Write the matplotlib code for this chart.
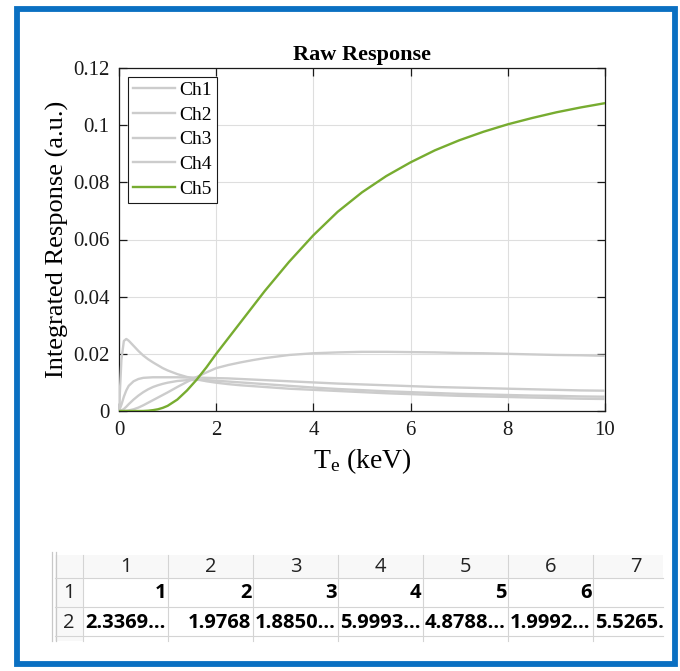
import matplotlib
matplotlib.use("Agg")
import matplotlib.pyplot as plt
from matplotlib.patches import Rectangle
from matplotlib.lines import Line2D
from matplotlib.ticker import FuncFormatter

# ---------------- data ----------------
te_kev = [0, 0.05, 0.1, 0.15, 0.2, 0.3, 0.4, 0.5, 0.6, 0.7, 0.8, 0.9, 1.0, 1.2,
          1.4, 1.6, 1.8, 2.0, 2.25, 2.5, 2.75, 3.0, 3.5, 4.0, 4.5, 5.0, 5.5,
          6.0, 6.5, 7.0, 7.5, 8.0, 8.5, 9.0, 9.5, 10.0]
ch1 = [0, 0.0180, 0.0245, 0.0252, 0.0246, 0.0228, 0.0210, 0.0194, 0.0181, 0.0170,
       0.0160, 0.0150, 0.0142, 0.0129, 0.0119, 0.0111, 0.0104, 0.0099, 0.0094,
       0.0090, 0.0087, 0.0084, 0.0078, 0.0074, 0.0070, 0.0066, 0.0062, 0.0059,
       0.0056, 0.0053, 0.0051, 0.0049, 0.0047, 0.0045, 0.0043, 0.0042]
ch2 = [0, 0.0022, 0.0050, 0.0072, 0.0088, 0.0104, 0.0112, 0.0116, 0.0117, 0.0118,
       0.0118, 0.0118, 0.0118, 0.0118, 0.0117, 0.0117, 0.0116, 0.0115, 0.0114,
       0.0112, 0.0110, 0.0108, 0.0104, 0.0100, 0.0096, 0.0093, 0.0090, 0.0087,
       0.0084, 0.0082, 0.0080, 0.0078, 0.0076, 0.0074, 0.0072, 0.0071]
ch3 = [0, 0.0002, 0.0007, 0.0015, 0.0024, 0.0040, 0.0054, 0.0066, 0.0076, 0.0084,
       0.0090, 0.0095, 0.0099, 0.0105, 0.0108, 0.0109, 0.0108, 0.0106, 0.0103,
       0.0100, 0.0097, 0.0094, 0.0088, 0.0082, 0.0077, 0.0073, 0.0069, 0.0066,
       0.0063, 0.0060, 0.0058, 0.0056, 0.0054, 0.0053, 0.0051, 0.0050]
ch4 = [0, 0, 0.00005, 0.0001, 0.0002, 0.0006, 0.0012, 0.0020, 0.0029, 0.0038,
       0.0047, 0.0056, 0.0065, 0.0084, 0.0102, 0.0119, 0.0135, 0.0150, 0.0161,
       0.0170, 0.0178, 0.0185, 0.0196, 0.0202, 0.0205, 0.0207, 0.0207, 0.0206,
       0.0205, 0.0203, 0.0202, 0.0200, 0.0198, 0.0196, 0.0195, 0.0193]
ch5 = [0, 0, 0, 0, 0, 0, 0, 0, 0.0001, 0.0003, 0.0006, 0.0011, 0.0018, 0.0040,
       0.0072, 0.0110, 0.0153, 0.0200, 0.0255, 0.0310, 0.0365, 0.0420, 0.0522,
       0.0615, 0.0697, 0.0765, 0.0822, 0.0870, 0.0912, 0.0947, 0.0977, 0.1003,
       0.1025, 0.1045, 0.1062, 0.1077]
series_names = ["Ch1", "Ch2", "Ch3", "Ch4", "Ch5"]
series_values = [ch1, ch2, ch3, ch4, ch5]
series_colors = ["#cccccc", "#cccccc", "#cccccc", "#cccccc", "#77ac30"]

x_ticks = [0, 2, 4, 6, 8, 10]
y_ticks = [0, 0.02, 0.04, 0.06, 0.08, 0.1, 0.12]

# table (variable-editor view)
table_col_headers = ["1", "2", "3", "4", "5", "6", "7"]
table_row_headers = ["1", "2"]
table_row1 = ["1", "2", "3", "4", "5", "6", ""]
table_row2 = ["2.3369...", "1.9768", "1.8850...", "5.9993...", "4.8788...",
              "1.9992...", "5.5265..."]

# ---------------- figure ----------------
W, H = 680, 671
fig = plt.figure(figsize=(W / 100, H / 100), dpi=100)
fig.patch.set_facecolor("white")

serif = ["Liberation Serif", "DejaVu Serif"]
plt.rcParams["mathtext.fontset"] = "custom"
plt.rcParams["mathtext.rm"] = "Liberation Serif"
plt.rcParams["mathtext.it"] = "Liberation Serif:italic"


def fx(px):
    return px / W


def fy(py):
    return 1 - py / H


ax_l, ax_r, ax_t, ax_b = 119, 605, 68, 411
ax = fig.add_axes([fx(ax_l), fy(ax_b), fx(ax_r) - fx(ax_l), (ax_b - ax_t) / H])

for name, vals, col in zip(series_names, series_values, series_colors):
    ax.plot(te_kev, vals, color=col, lw=1.7, label=name, zorder=3,
            solid_joinstyle="round")

ax.set_xlim(0, 10)
ax.set_ylim(0, 0.12)
ax.set_xticks(x_ticks)
ax.set_yticks(y_ticks)
ax.yaxis.set_major_formatter(FuncFormatter(lambda v, p: f"{v:g}"))
ax.grid(True, color="#dedede", lw=0.8, zorder=0)
ax.set_axisbelow(True)
ax.tick_params(direction="in", length=5.5, width=0.9, top=True, right=True,
               labelsize=15, colors="#1a1a1a", pad=7)
for lab in ax.get_xticklabels() + ax.get_yticklabels():
    lab.set_family(serif)
for s in ax.spines.values():
    s.set_color("#1a1a1a")
    s.set_linewidth(0.9)

ax.set_title("Raw Response", fontsize=16, fontweight="bold", family=serif,
             pad=6)
ax.set_ylabel("Integrated Response (a.u.)", fontsize=19, family=serif,
              labelpad=3)
ax.set_xlabel(r"T$_{\mathrm{e}}$ (keV)", fontsize=20, family=serif, labelpad=5)

leg = ax.legend(loc="upper left", prop={"family": serif, "size": 14},
                frameon=True, fancybox=False, framealpha=1, edgecolor="#1a1a1a",
                handlelength=2.2, handletextpad=0.2, labelspacing=0.36,
                borderpad=0.25, borderaxespad=0.45)
leg.get_frame().set_linewidth(0.8)

# ---------------- table ----------------
grid_col = "#d4d4d4"
t_left, rh_right = 55, 83.3
col_w = 85
t_right = 663
row_y = [555, 578, 607, 636]
t_bottom = 641

fig.add_artist(Rectangle((fx(t_left), fy(row_y[1])), fx(t_right) - fx(t_left),
                         (row_y[1] - row_y[0]) / H, transform=fig.transFigure,
                         facecolor="#f8f8f8", edgecolor="none"))
fig.add_artist(Rectangle((fx(t_left), fy(t_bottom)), fx(rh_right) - fx(t_left),
                         (t_bottom - row_y[0]) / H, transform=fig.transFigure,
                         facecolor="#f8f8f8", edgecolor="none"))
for xx in (52, 55.5):
    fig.add_artist(Line2D([fx(xx), fx(xx)], [fy(row_y[0] - 3), fy(t_bottom)],
                          transform=fig.transFigure, color="#c8c8c8", lw=0.9))
col_edges = [rh_right + i * col_w for i in range(len(table_col_headers) + 1)]
for xx in col_edges:
    if xx < t_right:
        fig.add_artist(Line2D([fx(xx), fx(xx)], [fy(row_y[0]), fy(t_bottom)],
                              transform=fig.transFigure, color=grid_col, lw=0.8))
for yy in row_y[1:]:
    fig.add_artist(Line2D([fx(t_left), fx(t_right)], [fy(yy), fy(yy)],
                          transform=fig.transFigure, color=grid_col, lw=0.8))

sans = ["Open Sans", "DejaVu Sans"]
clip = Rectangle((fx(t_left), fy(t_bottom)), fx(t_right) - fx(t_left),
                 (t_bottom - row_y[0]) / H, transform=fig.transFigure)


def ycen(i):
    return fy((row_y[i] + row_y[i + 1]) / 2 + 1)


for i, h in enumerate(table_col_headers):
    cx = (col_edges[i] + col_edges[i + 1]) / 2
    fig.text(fx(cx), ycen(0), h, ha="center", va="center", fontsize=14.5,
             family=sans, color="#222222")
for r, h in enumerate(table_row_headers):
    fig.text(fx((t_left + rh_right) / 2), ycen(r + 1), h, ha="center",
             va="center", fontsize=14.5, family=sans, color="#222222")
for r, row in enumerate([table_row1, table_row2]):
    for i, v in enumerate(row):
        if not v:
            continue
        if v.endswith("..."):
            t = fig.text(fx(col_edges[i] + 1.5), ycen(r + 1), v, ha="left",
                         va="center", fontsize=14.5, fontweight="bold",
                         family=sans, color="black")
        else:
            t = fig.text(fx(col_edges[i + 1] - 2), ycen(r + 1), v, ha="right",
                         va="center", fontsize=14.5, fontweight="bold",
                         family=sans, color="black")
        t.set_clip_path(clip)

# ---------------- blue frame ----------------
fig.add_artist(Rectangle((fx(16.8), fy(664)), fx(674.5) - fx(16.8),
                         (664 - 9.3) / H, transform=fig.transFigure,
                         facecolor="none", edgecolor="#0a70c2", lw=4.2))

fig.savefig("out.png", dpi=100, facecolor="white")
